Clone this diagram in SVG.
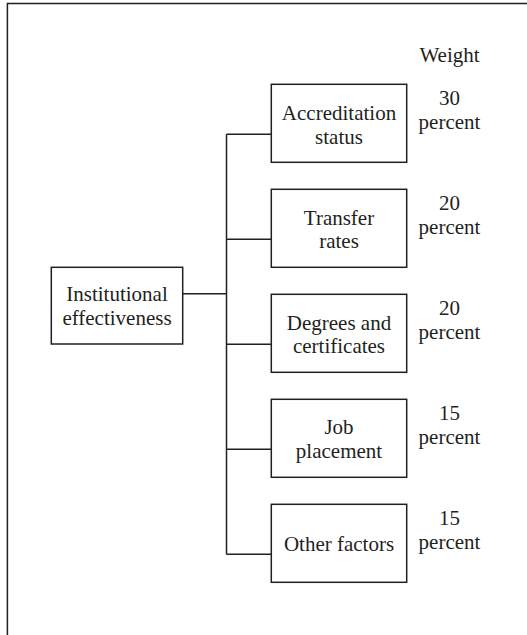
<svg xmlns="http://www.w3.org/2000/svg" width="527" height="635" viewBox="0 0 527 635">
<style>
.box{fill:#fff;stroke:#231f20;stroke-width:1.5}
.ln{fill:none;stroke:#231f20;stroke-width:1.5}
text{font-family:"Liberation Serif","Times New Roman",serif;font-size:21px;fill:#231f20;text-anchor:middle}
</style>
<rect width="527" height="635" fill="#fff"/>
<path class="ln" d="M7.4,635 V3.4 H527"/>
<g id="connectors">
<path class="ln" d="M182.7,293.7 H226.5"/>
<path class="ln" d="M226.5,134.3 V554.3"/>
<path class="ln" d="M226.5,134.3 H271.3"/>
<path class="ln" d="M226.5,239.3 H271.3"/>
<path class="ln" d="M226.5,344.3 H271.3"/>
<path class="ln" d="M226.5,449.3 H271.3"/>
<path class="ln" d="M226.5,554.3 H271.3"/>
</g>
<g id="weight-header"><text x="449.5" y="62">Weight</text></g>
<g id="institutional">
<rect class="box" x="51.3" y="267.3" width="131.4" height="76.7"/>
<text x="117" y="300.7">Institutional</text>
<text x="117" y="325">effectiveness</text>
</g>
<g id="accreditation">
<rect class="box" x="271.3" y="84.3" width="135.4" height="78"/>
<text x="339" y="120">Accreditation</text>
<text x="339" y="144">status</text>
<text x="449.5" y="105">30</text>
<text x="449.5" y="129.3">percent</text>
</g>
<g id="transfer">
<rect class="box" x="271.3" y="189.3" width="135.4" height="78"/>
<text x="339" y="224.5">Transfer</text>
<text x="339" y="248.3">rates</text>
<text x="449.5" y="209.5">20</text>
<text x="449.5" y="234.3">percent</text>
</g>
<g id="degrees">
<rect class="box" x="271.3" y="294.3" width="135.4" height="78"/>
<text x="339" y="329.5">Degrees and</text>
<text x="339" y="353.3">certificates</text>
<text x="449.5" y="314.5">20</text>
<text x="449.5" y="339.3">percent</text>
</g>
<g id="job">
<rect class="box" x="271.3" y="399.3" width="135.4" height="78"/>
<text x="339" y="434.3">Job</text>
<text x="339" y="458">placement</text>
<text x="449.5" y="419.5">15</text>
<text x="449.5" y="444.3">percent</text>
</g>
<g id="other">
<rect class="box" x="271.3" y="504.3" width="135.4" height="78"/>
<text x="339" y="551">Other factors</text>
<text x="449.5" y="524.5">15</text>
<text x="449.5" y="549.3">percent</text>
</g>
</svg>
